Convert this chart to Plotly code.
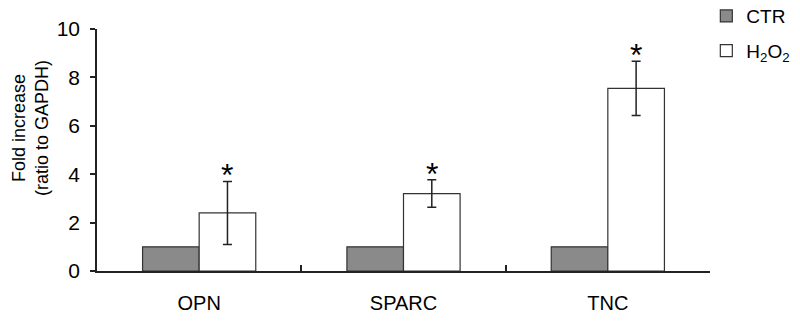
import plotly.graph_objects as go

categories = ["OPN", "SPARC", "TNC"]
ctr_values = [1.0, 1.0, 1.0]
h2o2_values = [2.4, 3.2, 7.55]
h2o2_errors = [1.3, 0.57, 1.12]
y_ticks = [0, 2, 4, 6, 8, 10]

FONT = "Liberation Sans, Arial, sans-serif"

fig = go.Figure()
fig.add_trace(go.Bar(
    x=categories, y=ctr_values, name="CTR", legendgroup="a",
    marker=dict(color="#8a8a8a", line=dict(color="#333333", width=1.2)),
))
fig.add_trace(go.Bar(
    x=categories, y=h2o2_values, name="H<sub>2</sub>O<sub>2</sub>", legendgroup="b",
    marker=dict(color="white", line=dict(color="#333333", width=1.2)),
    error_y=dict(type="data", array=h2o2_errors, visible=True,
                 color="#222222", thickness=1.5, width=4.5),
))

for c, v, e in zip(categories, h2o2_values, h2o2_errors):
    fig.add_annotation(x=c, y=v + e, text="*", showarrow=False,
                       xshift=28, yshift=6, yanchor="middle",
                       font=dict(family=FONT, size=32, color="black"))

fig.add_annotation(text="Fold increase<br>(ratio to GAPDH)",
                   xref="paper", yref="paper", x=0, y=0.5,
                   xanchor="center", yanchor="middle",
                   xshift=-67, yshift=22, textangle=-90, showarrow=False,
                   font=dict(family=FONT, size=18, color="black"))

fig.update_layout(
    width=800, height=321,
    margin=dict(l=89, r=98, t=21, b=58, autoexpand=False),
    plot_bgcolor="white", paper_bgcolor="white",
    barmode="group", bargap=0.446, bargroupgap=0,
    font=dict(family=FONT, size=20, color="black"),
    showlegend=True,
    legend=dict(x=0.994, y=1.132, xanchor="left", yanchor="top",
                traceorder="grouped", tracegroupgap=7,
                font=dict(family=FONT, size=19, color="black"),
                itemwidth=30, bgcolor="rgba(0,0,0,0)"),
    xaxis=dict(showline=True, linecolor="#222222", linewidth=1.5,
               ticks="inside", tickson="boundaries", ticklen=6,
               tickcolor="#222222", tickwidth=1.5, ticklabelstandoff=13,
               tickfont=dict(family=FONT, size=20, color="black"),
               showgrid=False, zeroline=False),
    yaxis=dict(range=[0, 10], tickvals=y_ticks, showline=True,
               linecolor="#222222", linewidth=1.5, ticks="outside",
               ticklen=5, tickcolor="#222222", tickwidth=1.5,
               ticklabelstandoff=6,
               tickfont=dict(family=FONT, size=21, color="black"),
               showgrid=False, zeroline=False),
)

fig.write_html("out.html")
